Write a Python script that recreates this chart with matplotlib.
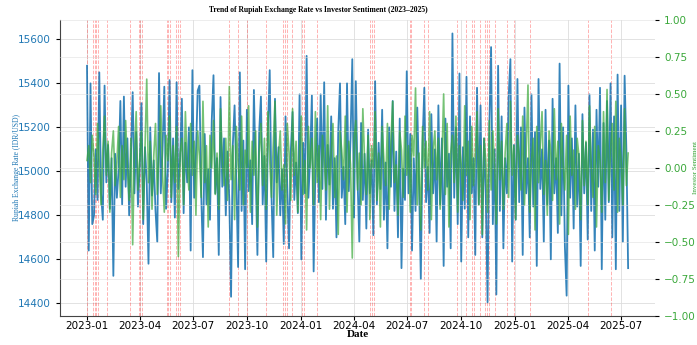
import pandas as pd
import matplotlib.pyplot as plt
import matplotlib.dates as mdates

# Rupiah exchange rate (IDR/USD), one reading every 3 days from 2023-01-01
rate = [
    15480, 14640, 15400, 14760, 14800, 15100, 14870, 15450, 14900, 14780,
    15390, 14950, 15120, 14830, 15060, 14525, 15080, 14880, 15010, 15320,
    14850, 15340, 14930, 15150, 14800, 15070, 15360, 14900, 15180, 14840,
    15020, 15310, 14760, 15110, 14950, 14580, 15200, 14890, 15050, 14820,
    14680, 15447, 14900, 15100, 15385, 14830, 15000, 15415, 14860, 15150,
    14790, 15405, 14920, 15060, 15330, 14810, 15130, 14950, 15200, 14640,
    15460, 14880, 15080, 15367, 15390, 14900, 14610, 15170, 14850, 15010,
    14780, 15230, 15437, 14900, 15060, 14620, 15338, 14930, 15150, 14800,
    15090, 14870, 14430, 15120, 15300, 14960, 14565, 15450, 14820, 15140,
    14555, 15280, 14910, 15050, 14760, 15370, 14990, 14620, 15180, 15340,
    14850, 15070, 14590, 15200, 15460, 14890, 14610, 15330, 14950, 15110,
    14800, 15010, 14670, 15250, 14930, 14650, 15090, 15270, 14870, 15040,
    14810, 15350, 14600, 15130, 14900, 15525, 14880, 15060, 15345, 14545,
    15010, 15240, 14860, 15350, 14920, 15405, 14780, 15120, 14940, 15250,
    14830, 15060, 14700, 15180, 15400, 14880, 15020, 14760, 15400, 14910,
    15150, 15510, 14790, 15410, 14960, 14680, 15220, 14870, 15080, 14740,
    15190, 14900, 15050, 14710, 15410, 14850, 15130, 14920, 15280, 14780,
    15040, 14650, 15200, 14930, 15320, 14820, 15090, 14700, 15240, 14560,
    15010, 14870, 15455, 14900, 15170, 14640, 15060, 14820, 15290, 14950,
    14510, 15130, 15380, 14860, 15020, 14720, 15260, 14900, 15100, 14680,
    15300, 14850, 15150, 14570, 15240, 14930, 15080, 14650, 15627, 14880,
    15200, 14760, 15445, 14590, 15110, 14830, 15430, 14700, 15250, 14900,
    15060, 14620, 15380, 14850, 15300, 14700, 15150, 14880, 14405, 15200,
    15565, 14760, 15100, 14440, 15480, 14820, 15250, 14650, 15060, 14900,
    15340, 15510, 14590, 15120, 14780, 15420, 14860, 15200, 14620, 15290,
    14900, 15060, 14700, 15350, 14840, 15180, 14570, 15420, 14920, 15100,
    14680, 15280, 14850, 15140, 14600, 15330, 14900, 15060, 14720, 15490,
    14800, 15200, 14660, 14435, 15390, 14880, 15150, 14740, 15300, 14840,
    15080, 14570, 15260, 14900, 15130, 14690, 15350, 14820, 15190, 14640,
    15280, 14930, 15380, 14555, 15220, 14780, 15320, 14860, 15400, 14700,
    15250, 14555, 15440, 14820, 15300, 14680, 15435, 15100, 14560,
]

# Investor sentiment score (-1 to 1), same 3-day readings
sentiment = [
    0.05, 0.15, -0.10, 0.22, 0.08, -0.18, 0.30, 0.02, -0.25, 0.12,
    0.35, -0.05, 0.18, -0.30, 0.10, 0.25, -0.12, 0.04, 0.28, -0.20,
    0.15, -0.08, 0.32, 0.00, -0.22, 0.20, -0.52, 0.10, 0.38, -0.15,
    0.05, 0.25, -0.35, 0.12, 0.60, -0.10, 0.18, -0.28, 0.08, 0.30,
    -0.18, 0.12, 0.42, -0.05, -0.30, 0.22, 0.05, 0.35, -0.20, 0.15,
    -0.10, 0.28, -0.60, 0.10, 0.20, -0.25, 0.38, 0.02, -0.15, 0.30,
    -0.05, 0.18, -0.32, 0.25, 0.08, -0.20, 0.45, -0.10, 0.15, -0.40,
    0.22, 0.00, 0.32, -0.18, 0.10, -0.28, 0.40, 0.05, -0.12, 0.20,
    -0.22, 0.55, -0.08, 0.15, -0.35, 0.28, 0.02, -0.15, 0.35, -0.25,
    0.12, 0.00, 0.42, -0.30, 0.18, -0.05, 0.25, -0.40, 0.10, 0.30,
    -0.12, 0.20, -0.28, 0.38, 0.05, -0.20, 0.15, 0.45, -0.32, 0.08,
    0.25, -0.15, 0.02, -0.38, 0.30, 0.10, -0.22, 0.40, -0.05, 0.18,
    -0.30, 0.12, 0.35, -0.18, 0.05, -0.42, 0.28, 0.00, 0.20, -0.25,
    0.38, -0.10, 0.15, -0.35, 0.22, 0.05, -0.15, 0.42, -0.28, 0.10,
    0.30, -0.20, 0.08, -0.45, 0.25, 0.12, -0.08, 0.35, -0.30, 0.18,
    0.02, -0.61, 0.20, 0.32, -0.15, 0.10, -0.25, 0.40, 0.05, -0.18,
    0.22, -0.35, 0.15, 0.00, 0.38, -0.22, 0.10, -0.40, 0.28, 0.05,
    -0.12, 0.30, -0.28, 0.18, 0.45, -0.10, 0.02, -0.32, 0.25, 0.12,
    -0.20, 0.35, -0.05, 0.15, -0.30, 0.22, 0.08, 0.54, -0.25, 0.10,
    -0.42, 0.28, 0.00, 0.18, -0.15, 0.38, -0.35, 0.12, 0.25, -0.08,
    0.20, -0.28, 0.05, 0.50, -0.18, 0.30, -0.40, 0.10, 0.22, -0.10,
    0.35, -0.30, 0.15, 0.02, -0.22, 0.42, -0.05, 0.18, -0.35, 0.28,
    -0.12, 0.08, 0.38, -0.25, 0.15, -0.45, 0.20, 0.05, -0.30, 0.32,
    -0.15, 0.25, 0.00, -0.38, 0.40, -0.08, 0.18, -0.28, 0.10, 0.30,
    -0.20, 0.45, -0.05, 0.15, -0.35, 0.22, 0.08, -0.15, 0.35, -0.25,
    0.12, 0.56, -0.30, 0.05, 0.20, -0.42, 0.28, -0.10, 0.15, 0.38,
    -0.18, 0.05, -0.32, 0.25, 0.10, -0.22, 0.40, -0.08, 0.18, -0.38,
    0.30, 0.02, -0.15, 0.22, -0.45, 0.35, -0.05, 0.12, -0.28, 0.20,
    0.08, -0.35, 0.32, -0.12, 0.18, -0.25, 0.42, 0.00, -0.20, 0.28,
    -0.40, 0.15, 0.05, -0.30, 0.38, -0.10, 0.53, -0.22, 0.12, 0.30,
    -0.15, 0.45, -0.30, 0.20, 0.05, -0.25, 0.40, -0.12, 0.10,
]

# Marked event days (red dashed lines)
event_dates = [
    '2023-01-01', '2023-01-11', '2023-01-14', '2023-01-17', '2023-01-20',
    '2023-02-04', '2023-03-16', '2023-03-31', '2023-04-02', '2023-04-05',
    '2023-05-17', '2023-05-20', '2023-05-23', '2023-06-02', '2023-06-05',
    '2023-06-09', '2023-09-01', '2023-09-15', '2023-10-01', '2023-11-03',
    '2023-12-02', '2023-12-05', '2023-12-08', '2023-12-17', '2024-01-03',
    '2024-01-06', '2024-01-29', '2024-04-28', '2024-05-02', '2024-05-05',
    '2024-07-05', '2024-07-08', '2024-07-30', '2024-08-05', '2024-09-24',
    '2024-10-10', '2024-10-20', '2024-10-23', '2024-11-02', '2024-11-10',
    '2024-11-14', '2024-11-18', '2024-11-28', '2024-12-18', '2024-12-30',
    '2025-01-26', '2025-05-05', '2025-06-13',
]

title = 'Trend of Rupiah Exchange Rate vs Investor Sentiment (2023\u20132025)'


def main():
    rate_dates = pd.date_range('2023-01-01', periods=len(rate), freq='3D')
    sent_dates = pd.date_range('2023-01-01', periods=len(sentiment), freq='3D')

    fig, ax1 = plt.subplots(figsize=(6.97, 3.45), dpi=100)
    fig.subplots_adjust(left=0.086, right=0.94, bottom=0.085, top=0.942)

    for d in pd.to_datetime(event_dates):
        ax1.axvline(d, color='red', ls='--', lw=0.7, alpha=0.3, zorder=1)

    ax1.plot(rate_dates, rate, color='tab:blue', lw=1.3, alpha=0.9, zorder=2)
    ax1.set_ylabel('Rupiah Exchange Rate (IDR/USD)', color='tab:blue',
                   family='Liberation Serif', fontsize=5.5)
    ax1.yaxis.set_label_coords(-0.066, 0.5)
    ax1.tick_params(axis='y', labelcolor='tab:blue', labelsize=7.5, length=3)
    ax1.tick_params(axis='x', labelsize=7.5, length=3, pad=1)
    ax1.set_xlabel('Date', family='Liberation Serif', fontweight='bold',
                   fontsize=8)
    ax1.xaxis.set_label_coords(0.5, -0.05)
    ax1.xaxis.set_major_locator(mdates.MonthLocator(bymonth=[1, 4, 7, 10]))
    ax1.xaxis.set_major_formatter(mdates.DateFormatter('%Y-%m'))
    ax1.grid(True, color='#dddddd', lw=0.6)
    ax1.set_axisbelow(True)

    ax2 = ax1.twinx()
    ax2.plot(sent_dates, sentiment, color='#3aa83a', lw=1.2, alpha=0.7)
    ax2.set_ylim(-1, 1)
    ax2.set_ylabel('Investor Sentiment', color='tab:green',
                   family='Liberation Serif', fontsize=5)
    ax2.yaxis.set_label_coords(1.064, 0.5)
    ax2.tick_params(axis='y', labelcolor='#3aa83a', labelsize=7.5, length=3)
    ax2.grid(True, axis='y', color='#dddddd', lw=0.6, alpha=0.6)

    for ax in (ax1, ax2):
        ax.spines['top'].set_visible(False)
        ax.spines['right'].set_visible(False)
    ax2.spines['left'].set_visible(False)
    ax2.spines['bottom'].set_visible(False)
    ax1.spines['left'].set_color('#444444')
    ax1.spines['bottom'].set_color('#444444')

    ax1.set_title(title, family='Liberation Serif', fontweight='bold',
                  fontsize=5.5, x=0.434, pad=6)

    fig.savefig('out.png', dpi=100)


if __name__ == "__main__":
    main()
